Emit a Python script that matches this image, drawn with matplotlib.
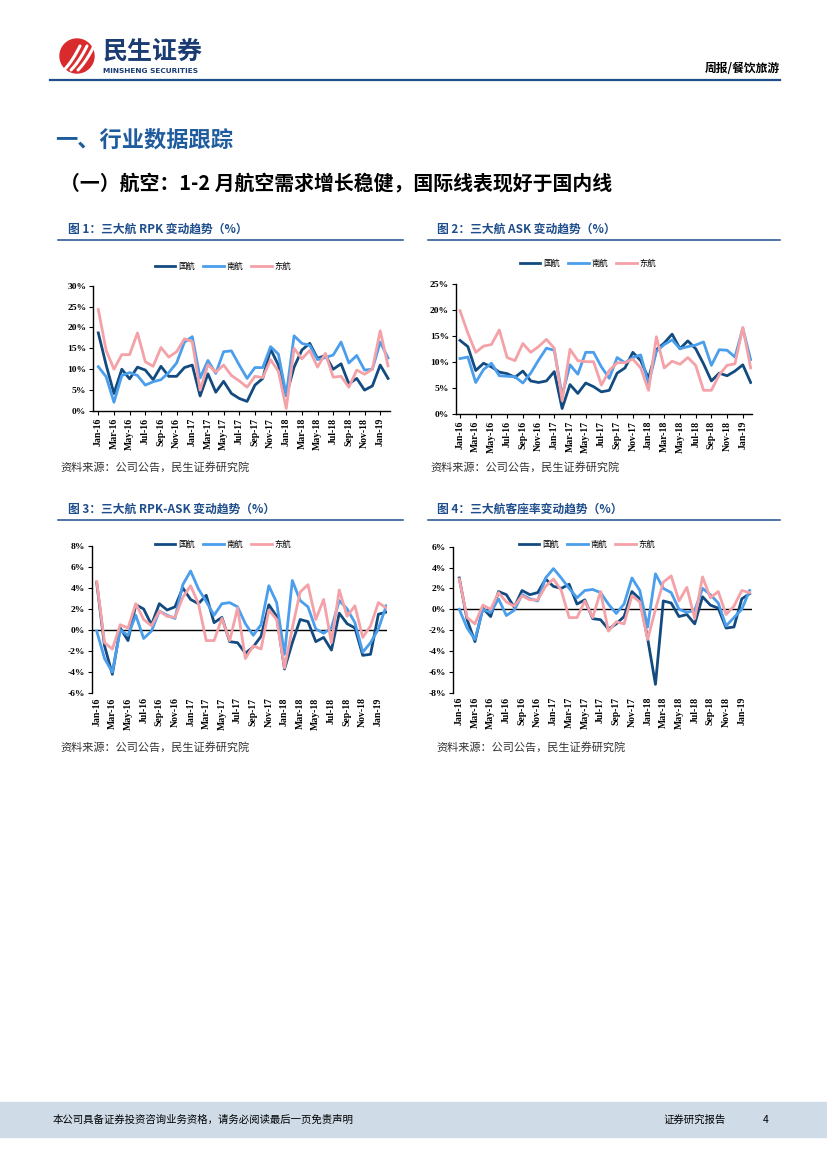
# ============================================================
# A. DATA
# ============================================================
import matplotlib.pyplot as plt
import matplotlib.patches as mpatches
import numpy as np
import pandas as pd

months = pd.date_range('2016-01-01', periods=38, freq='MS').strftime('%b-%y').tolist()
airlines = ['国航', '南航', '东航']

# 图1 RPK (%)
rpk_ca = [18.7, 11.0, 4.2, 10.0, 7.7, 10.5, 9.8, 7.5, 10.7, 8.3, 8.3, 10.4, 11.0,
          3.6, 8.9, 4.5, 7.1, 4.2, 3.0, 2.3, 6.2, 7.8, 14.8, 11.0, 3.7, 10.5,
          14.6, 16.2, 12.6, 13.3, 10.0, 11.3, 6.5, 7.8, 5.0, 6.0, 11.0, 7.8]
rpk_cz = [10.6, 8.2, 2.1, 8.5, 9.2, 8.5, 6.2, 7.0, 7.5, 9.2, 11.5, 16.5, 17.8,
          7.9, 12.1, 9.0, 14.2, 14.4, 11.0, 7.8, 10.4, 10.4, 15.4, 13.6, 3.8, 18.0,
          16.2, 15.7, 12.3, 12.8, 13.4, 16.5, 11.5, 13.3, 9.8, 10.0, 16.5, 12.7]
rpk_mu = [24.3, 14.5, 10.0, 13.5, 13.5, 18.7, 11.8, 10.7, 15.2, 12.9, 14.2, 17.3, 16.6,
          5.0, 11.1, 9.3, 11.0, 8.5, 7.2, 5.7, 8.3, 8.0, 12.3, 9.5, 0.6, 15.0,
          12.5, 14.5, 10.5, 13.8, 8.1, 8.3, 5.7, 9.8, 8.8, 10.0, 19.2, 10.8]

# 图2 ASK (%)
ask_ca = [14.1, 12.9, 8.3, 9.7, 9.0, 8.0, 7.7, 7.0, 8.2, 6.3, 6.0, 6.3, 8.1,
          1.0, 5.6, 3.9, 5.9, 5.2, 4.2, 4.5, 7.8, 8.8, 11.8, 10.2, 6.8, 12.3,
          13.6, 15.3, 12.5, 14.0, 12.5, 9.6, 6.3, 7.8, 7.3, 8.2, 9.4, 6.0]
ask_cz = [10.6, 10.9, 6.0, 8.5, 9.7, 7.3, 7.2, 7.1, 5.9, 7.8, 10.3, 12.6, 12.2,
          3.5, 9.4, 7.6, 11.8, 11.8, 9.0, 6.8, 10.8, 9.8, 10.8, 11.3, 5.7, 12.0,
          13.3, 14.2, 12.5, 12.9, 13.2, 13.8, 9.3, 12.3, 12.2, 10.9, 16.4, 10.4]
ask_mu = [19.8, 15.5, 11.8, 13.0, 13.3, 16.1, 10.8, 10.2, 13.5, 11.8, 12.9, 14.3, 12.6,
          2.5, 12.4, 10.2, 10.0, 10.0, 5.5, 8.3, 9.8, 9.8, 10.5, 8.8, 4.5, 14.8,
          8.8, 10.1, 9.5, 10.8, 9.3, 4.5, 4.5, 7.5, 9.3, 9.6, 16.6, 8.8]

# 图3 RPK-ASK (%)
gap_ca = [4.5, -1.5, -4.2, 0.2, -1.0, 2.4, 2.0, 0.5, 2.5, 1.9, 2.2, 4.0, 2.9,
          2.5, 3.3, 0.7, 1.2, -1.1, -1.2, -2.2, -1.6, -0.6, 2.4, 1.3, -3.7, -1.2,
          1.0, 0.8, -1.1, -0.7, -1.9, 1.6, 0.6, 0.2, -2.4, -2.3, 1.5, 1.7]
gap_cz = [-0.1, -2.7, -4.0, 0.0, -0.5, 1.4, -0.8, -0.1, 1.8, 1.4, 1.1, 4.3, 5.6,
          3.9, 2.7, 1.4, 2.5, 2.6, 2.2, 0.6, -0.5, 0.5, 4.2, 2.6, -2.3, 4.7,
          2.8, 2.2, 0.1, -0.3, 0.2, 2.8, 2.0, 0.7, -2.1, -1.2, 0.1, 2.3]
gap_mu = [4.6, -1.2, -1.8, 0.5, 0.2, 2.5, 1.0, 0.4, 1.8, 1.3, 1.2, 3.1, 4.2,
          2.5, -1.0, -1.0, 1.1, -1.0, 2.1, -2.7, -1.5, -1.8, 1.9, 1.0, -3.6, 0.2,
          3.6, 4.3, 1.0, 2.9, -1.2, 3.8, 1.3, 2.3, -0.7, 0.4, 2.6, 2.1]

# 图4 客座率变动 (%)
lf_ca = [3.0, -1.0, -3.1, 0.1, -0.7, 1.7, 1.4, 0.2, 1.8, 1.4, 1.6, 2.9, 2.2,
         2.0, 2.4, 0.5, 0.9, -0.9, -1.0, -1.9, -1.4, -0.7, 1.7, 1.0, -2.8, -7.2,
         0.8, 0.6, -0.7, -0.5, -1.4, 1.2, 0.4, 0.1, -1.8, -1.7, 1.0, 1.5]
lf_cz = [0.0, -1.8, -2.9, 0.0, -0.3, 1.0, -0.6, -0.1, 1.4, 1.0, 0.8, 3.0, 3.9,
         3.0, 2.0, 1.1, 1.8, 1.9, 1.6, 0.5, -0.4, 0.5, 3.0, 1.8, -1.7, 3.4,
         2.0, 1.6, 0.0, -0.3, -0.1, 2.0, 1.4, 0.6, -1.6, -0.8, 0.0, 1.8]
lf_mu = [2.9, -0.8, -1.4, 0.4, 0.0, 1.6, 0.7, 0.3, 1.3, 0.9, 0.9, 2.2, 2.9,
         1.8, -0.8, -0.8, 0.8, -0.8, 1.7, -2.1, -1.2, -1.4, 1.3, 0.7, -2.9, 0.0,
         2.6, 3.2, 0.8, 2.1, -0.9, 3.1, 1.1, 1.7, -0.5, 0.3, 1.8, 1.6]

# ============================================================
# B. STYLE
# ============================================================
plt.rcParams['font.family'] = ['Noto Sans CJK SC', 'DejaVu Sans']

W, H = 827, 1169
NAVY = '#1F4E8C'
line_colors = ['#134B80', '#4A9EEB', '#F4A1A7']
num_font = 'Liberation Serif'

fig = plt.figure(figsize=(W / 100, H / 100), dpi=100)

# page layer in pixel coordinates
page = fig.add_axes([0, 0, 1, 1])
page.set_xlim(0, W)
page.set_ylim(H, 0)
page.axis('off')

# ============================================================
# C. HEADER
# ============================================================
page.add_patch(mpatches.Circle((77, 56), 17, color='#D92A2E', zorder=2))
for k in range(3):
    t = np.linspace(0, 1, 20)
    xs = 64 + k * 7 + 16 * t
    ys = 70 - 24 * t + 8 * t * (1 - t)
    page.plot(xs, ys, color='white', lw=2.2, solid_capstyle='round', zorder=3)

page.text(103, 52, '民生证券', fontsize=18, fontweight='bold', color='#1B3C73',
          ha='left', va='center')
page.text(103, 71, 'MINSHENG SECURITIES', fontsize=5.3, fontweight='bold',
          color='#1B3C73', ha='left', va='center', family='DejaVu Sans')
page.text(780, 68, '周报/餐饮旅游', fontsize=8.5, fontweight='bold',
          ha='right', va='center')
page.plot([50, 780], [80, 80], color=NAVY, lw=1.6)

page.text(55, 140, '一、行业数据跟踪', fontsize=16, fontweight='bold',
          color='#1F5C9E', ha='left', va='center')
page.text(60, 183, '（一）航空：1-2 月航空需求增长稳健，国际线表现好于国内线',
          fontsize=14.3, fontweight='bold', ha='left', va='center')

# ============================================================
# D. CAPTIONS & SOURCES
# ============================================================
captions = [
    (68, 229, '图 1：三大航 RPK 变动趋势（%）'),
    (437, 229, '图 2：三大航 ASK 变动趋势（%）'),
    (68, 509, '图 3：三大航 RPK-ASK 变动趋势（%）'),
    (437, 509, '图 4：三大航客座率变动趋势（%）'),
]
for x, y, s in captions:
    page.text(x, y, s, fontsize=8.5, fontweight='bold', color=NAVY,
              ha='left', va='center')

for y in [240, 520]:
    page.plot([58, 403], [y, y], color=NAVY, lw=1.1)
    page.plot([428, 780], [y, y], color=NAVY, lw=1.1)

source = '资料来源：公司公告，民生证券研究院'
for x, y in [(60, 467), (430, 467), (60, 747), (436, 747)]:
    page.text(x, y, source, fontsize=8, color='#333333', ha='left', va='center')

# ============================================================
# E. FOOTER
# ============================================================
page.add_patch(mpatches.Rectangle((0, 1102), W, 35, color='#CFDCE8', zorder=1))
page.text(53, 1120, '本公司具备证券投资咨询业务资格，请务必阅读最后一页免责声明',
          fontsize=7.5, ha='left', va='center', zorder=2)
page.text(663, 1120, '证券研究报告', fontsize=7.5, ha='left', va='center', zorder=2)
page.text(763, 1120, '4', fontsize=7.5, ha='left', va='center', zorder=2)


# ============================================================
# F. CHARTS
# ============================================================
def draw_chart(box, xlim, ylim, yticks, series, legend_xy, zero_line):
    left, right, top, bottom = box
    ax = fig.add_axes([left / W, 1 - bottom / H, (right - left) / W, (bottom - top) / H])
    x = np.arange(len(months))
    for name, vals, c in zip(airlines, series, line_colors):
        ax.plot(x, vals, color=c, lw=2.0, label=name, zorder=3)

    ax.set_xlim(*xlim)
    ax.set_ylim(*ylim)
    ax.set_yticks(yticks)
    ax.set_yticklabels([f'{v}%' for v in yticks], fontfamily=num_font,
                       fontweight='bold', fontsize=6.8)
    ax.set_xticks(x[::2])
    ax.set_xticklabels(months[::2], rotation=90, fontfamily=num_font,
                       fontweight='bold', fontsize=7)

    for side in ['top', 'right']:
        ax.spines[side].set_visible(False)
    ax.spines['left'].set_linewidth(1.0)
    if zero_line:
        ax.spines['bottom'].set_visible(False)
        ax.axhline(0, color='black', lw=1.0, zorder=2)
        ax.tick_params(axis='x', length=0, pad=3)
    else:
        ax.spines['bottom'].set_linewidth(1.0)
        ax.tick_params(axis='x', length=3, width=0.8, pad=2)
    ax.tick_params(axis='y', length=3, width=0.8, pad=2)

    ax.legend(loc='center', bbox_to_anchor=(legend_xy[0] / W, 1 - legend_xy[1] / H),
              bbox_transform=fig.transFigure, ncol=3, frameon=False,
              fontsize=6, handlelength=2.5, handletextpad=0.3,
              columnspacing=1.0)
    return ax


draw_chart((93.3, 390, 285.7, 411), (-0.64, 37.25), (0, 30), list(range(0, 31, 5)),
           [rpk_ca, rpk_cz, rpk_mu], (223, 266), False)
draw_chart((456, 752, 283.7, 413.7), (-0.51, 37.17), (0, 25), list(range(0, 26, 5)),
           [ask_ca, ask_cz, ask_mu], (588, 263), False)
draw_chart((91.7, 387, 545.7, 693.3), (-0.64, 37.1), (-6, 8), list(range(-6, 9, 2)),
           [gap_ca, gap_cz, gap_mu], (223, 544), True)
draw_chart((453.3, 752, 546.7, 692.7), (-0.76, 37.3), (-8, 6), list(range(-8, 7, 2)),
           [lf_ca, lf_cz, lf_mu], (587, 544), True)

# ============================================================
# G. SAVE
# ============================================================
plt.savefig('out.png', dpi=100)
